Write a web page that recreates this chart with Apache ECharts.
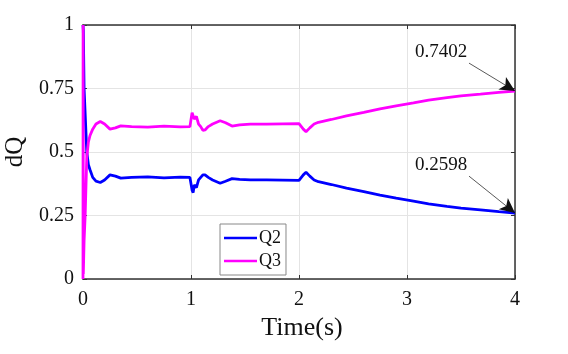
<!DOCTYPE html>
<html>
<head>
<meta charset="utf-8">
<script src="https://cdn.jsdelivr.net/npm/echarts@6/dist/echarts.min.js"></script>
<style>
  html, body { margin: 0; padding: 0; background: #fff; }
  #main { width: 568px; height: 354px; }
</style>
</head>
<body>
<div id="main"></div>
<script>
// time axis (s)
var time = [0, 0.001, 0.003, 0.01, 0.02, 0.035, 0.05, 0.065, 0.09, 0.12, 0.16, 0.2, 0.25, 0.3, 0.35,
    0.45, 0.6, 0.75, 0.9, 0.99,
    1.0, 1.01, 1.02, 1.03, 1.05, 1.07, 1.09, 1.11, 1.13, 1.16, 1.2, 1.27, 1.32, 1.38, 1.45, 1.55, 1.7, 1.85, 2.0,
    2.01, 2.04, 2.065, 2.1, 2.14, 2.18, 2.3, 2.44, 2.6, 2.75, 2.9, 3.06, 3.2, 3.37, 3.5, 3.68, 3.85, 4.0];

// Q2 (blue)
var q2 = [1, 1, 0.98, 0.75, 0.65, 0.5, 0.45, 0.43, 0.40, 0.385, 0.38, 0.39, 0.41, 0.405, 0.397,
    0.40, 0.402, 0.398, 0.401, 0.40,
    0.40, 0.35, 0.34, 0.37, 0.36, 0.39, 0.40, 0.41, 0.41, 0.40, 0.39, 0.377, 0.385, 0.395, 0.392, 0.39, 0.39, 0.389, 0.388,
    0.388, 0.41, 0.42, 0.405, 0.39, 0.383, 0.372, 0.358, 0.344, 0.33, 0.318, 0.307, 0.296, 0.286, 0.279, 0.272, 0.265, 0.2598];

// Q3 (magenta)
var q3 = [0, 1, 0.02, 0.15, 0.25, 0.48, 0.54, 0.565, 0.59, 0.61, 0.62, 0.61, 0.59, 0.595, 0.603,
    0.60, 0.598, 0.602, 0.599, 0.60,
    0.60, 0.655, 0.66, 0.63, 0.64, 0.61, 0.60, 0.585, 0.587, 0.60, 0.61, 0.623, 0.615, 0.602, 0.607, 0.61, 0.61, 0.611, 0.612,
    0.612, 0.59, 0.58, 0.595, 0.61, 0.617, 0.628, 0.642, 0.656, 0.67, 0.682, 0.693, 0.704, 0.714, 0.721, 0.728, 0.735, 0.7402];

// annotations: label position, arrow tail
var noteText = ['0.7402', '0.2598'];
var notePos = [[3.315, 0.894], [3.315, 0.449]];
var arrowFrom = [[3.574, 0.85], [3.574, 0.405]];
var arrowTo = [[4, 0.7402], [4, 0.2598]];

var serif = 'Liberation Serif';

function pairs(ys) {
    return time.map(function(t, i) { return [t, ys[i]]; });
}

function note(i) {
    return {
        markLine: {
            silent: true,
            animation: false,
            lineStyle: { color: '#111', width: 0.7, type: 'solid' },
            symbolSize: [11, 15],
            label: { show: false },
            data: [[
                { coord: arrowFrom[i], symbol: 'none' },
                { coord: arrowTo[i], symbol: 'arrow' }
            ]]
        },
        markPoint: {
            silent: true,
            symbol: 'rect',
            symbolSize: 1,
            itemStyle: { color: 'rgba(0,0,0,0)' },
            label: {
                show: true,
                position: 'inside',
                formatter: noteText[i],
                color: '#111',
                fontFamily: serif,
                fontSize: 19
            },
            data: [{ coord: notePos[i] }]
        }
    };
}

var myChart = echarts.init(document.getElementById('main'));

var option = {
    animation: false,
    backgroundColor: '#fff',
    grid: { left: 83, right: 53, top: 25, bottom: 75, containLabel: false, outerBoundsMode: 'none' },
    legend: {
        orient: 'vertical',
        left: 220,
        top: 224,
        padding: [5, 5, 5, 4],
        itemGap: 5,
        icon: 'rect',
        itemWidth: 33,
        itemHeight: 2.5,
        borderColor: '#888',
        borderWidth: 1,
        backgroundColor: '#fff',
        textStyle: { fontFamily: serif, fontSize: 18, color: '#111', padding: [0, 0, 0, -3] },
        data: ['Q2', 'Q3']
    },
    xAxis: [{
        type: 'value',
        min: 0, max: 4, interval: 1,
        name: 'Time(s)',
        nameLocation: 'middle',
        nameGap: 34,
        nameTextStyle: { fontFamily: serif, fontSize: 26, color: '#111', padding: [0, 0, 0, 6] },
        axisLine: { show: true, lineStyle: { color: '#333', width: 1.5 } },
        axisTick: { show: true, inside: true, length: 4, lineStyle: { color: '#333' } },
        axisLabel: { fontFamily: serif, fontSize: 20, color: '#111', margin: 11 },
        splitLine: { show: true, lineStyle: { color: '#e4e4e4', width: 1 } }
    }, {
        type: 'value',
        position: 'top',
        min: 0, max: 4, interval: 1,
        axisLine: { show: true, onZero: false, lineStyle: { color: '#333', width: 1.5 } },
        axisTick: { show: true, inside: true, length: 4, lineStyle: { color: '#333' } },
        axisLabel: { show: false },
        splitLine: { show: false }
    }],
    yAxis: [{
        type: 'value',
        min: 0, max: 1, interval: 0.25,
        name: 'dQ',
        nameLocation: 'middle',
        nameGap: 44,
        nameTextStyle: { fontFamily: serif, fontSize: 25, color: '#111' },
        axisLine: { show: true, lineStyle: { color: '#333', width: 1.5 } },
        axisTick: { show: true, inside: true, length: 4, lineStyle: { color: '#333' } },
        axisLabel: { fontFamily: serif, fontSize: 20, color: '#111', margin: 9 },
        splitLine: { show: true, lineStyle: { color: '#e4e4e4', width: 1 } }
    }, {
        type: 'value',
        position: 'right',
        min: 0, max: 1, interval: 0.25,
        axisLine: { show: true, onZero: false, lineStyle: { color: '#333', width: 1.5 } },
        axisTick: { show: true, inside: true, length: 4, lineStyle: { color: '#333' } },
        axisLabel: { show: false },
        splitLine: { show: false }
    }],
    series: [
        Object.assign({
            name: 'Q2',
            type: 'line',
            symbol: 'none',
            color: '#0000ff',
            lineStyle: { color: '#0000ff', width: 2.8 },
            data: pairs(q2)
        }, note(1)),
        Object.assign({
            name: 'Q3',
            type: 'line',
            symbol: 'none',
            color: '#ff00ff',
            lineStyle: { color: '#ff00ff', width: 2.8 },
            data: pairs(q3)
        }, note(0))
    ]
};

myChart.setOption(option);
</script>
</body>
</html>
